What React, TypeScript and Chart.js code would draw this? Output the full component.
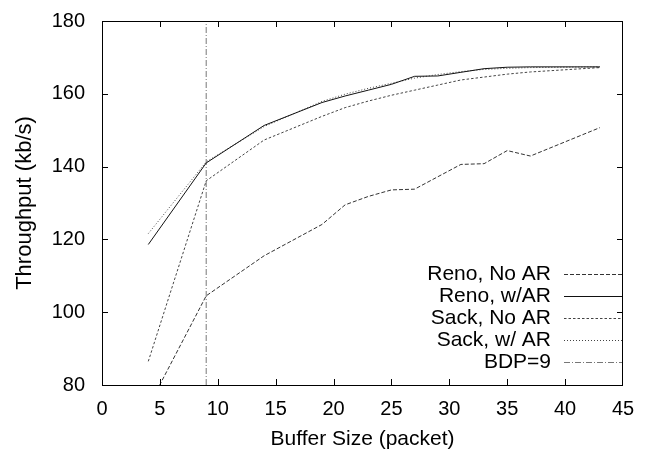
import React, { useEffect, useRef } from "react";
import { Chart, registerables } from "chart.js";

Chart.register(...registerables);

// Buffer sizes (packets) at which throughput was measured
const bufferSizes = [4, 9, 14, 19, 21, 23, 25, 27, 29, 31, 33, 35, 37, 43];

// Throughput (kb/s) per configuration
const renoNoAR = [74, 104.5, 115.5, 124.1, 129.5, 131.8, 133.6, 133.8, 137.2, 140.6, 140.8, 144.4, 142.9, 150.7];
const renoWithAR = [118.6, 141.0, 151.3, 157.6, 159.4, 161.0, 162.6, 164.8, 164.9, 165.9, 166.9, 167.3, 167.4, 167.4];
const sackNoAR = [86.5, 136.1, 147.3, 153.8, 156.2, 158.0, 159.6, 161.0, 162.4, 163.8, 164.6, 165.4, 166.0, 167.2];
const sackWithAR = [121.6, 141.3, 151.0, 157.9, 159.9, 161.5, 162.9, 164.3, 165.3, 166.1, 166.7, 167.0, 167.2, 167.4];

// Bandwidth-delay product marker
const bdpValue = 9;

// Axis ranges and tick steps
const xRange = [0, 45];
const yRange = [80, 180];
const xStep = 5;
const yStep = 20;

const FONT = "'Liberation Sans', Arial, Helvetica, sans-serif";

const toPoints = (ys: number[]) => ys.map((y, i) => ({ x: bufferSizes[i], y }));

// Box frame with inward ticks on all four sides
const framePlugin = {
  id: "frame",
  afterDatasetsDraw(chart: any) {
    const { ctx, chartArea: a, scales } = chart;
    const len = 6;
    ctx.save();
    ctx.strokeStyle = "#000";
    ctx.lineWidth = 1;
    ctx.strokeRect(a.left + 0.5, a.top + 0.5, a.right - a.left - 1, a.bottom - a.top);
    ctx.beginPath();
    for (let v = xRange[0] + xStep; v < xRange[1]; v += xStep) {
      const px = Math.round(scales.x.getPixelForValue(v)) + 0.5;
      ctx.moveTo(px, a.bottom);
      ctx.lineTo(px, a.bottom - len);
      ctx.moveTo(px, a.top);
      ctx.lineTo(px, a.top + len);
    }
    for (let v = yRange[0] + yStep; v < yRange[1]; v += yStep) {
      const py = Math.round(scales.y.getPixelForValue(v)) + 0.5;
      ctx.moveTo(a.left, py);
      ctx.lineTo(a.left + len, py);
      ctx.moveTo(a.right, py);
      ctx.lineTo(a.right - len, py);
    }
    ctx.stroke();
    ctx.restore();
  },
};

// Key in the lower right: right-aligned label, line sample to its right
const keyPlugin = {
  id: "key",
  afterDraw(chart: any) {
    const { ctx, chartArea: a } = chart;
    const textRight = a.right - 72;
    const sampleLeft = a.right - 59;
    const sampleRight = a.right - 1;
    const firstRow = a.bottom - 111;
    const rowStep = 22;
    ctx.save();
    ctx.font = `21px ${FONT}`;
    ctx.textAlign = "right";
    ctx.textBaseline = "middle";
    chart.data.datasets.forEach((ds: any, i: number) => {
      const y = firstRow + i * rowStep;
      ctx.fillStyle = "#000";
      ctx.fillText(ds.label, textRight, y);
      ctx.beginPath();
      ctx.strokeStyle = ds.borderColor;
      ctx.lineWidth = ds.borderWidth;
      ctx.setLineDash(ds.borderDash || []);
      ctx.moveTo(sampleLeft, Math.round(y) + 0.5);
      ctx.lineTo(sampleRight, Math.round(y) + 0.5);
      ctx.stroke();
    });
    ctx.restore();
  },
};

export default function App() {
  const canvasRef = useRef<HTMLCanvasElement | null>(null);

  useEffect(() => {
    if (!canvasRef.current) return;
    const line = (label: string, data: any[], color: string, dash: number[], width = 1) => ({
      label,
      data,
      borderColor: color,
      backgroundColor: color,
      borderWidth: width,
      borderDash: dash,
      pointRadius: 0,
      tension: 0,
      fill: false,
    });
    const chart = new Chart(canvasRef.current, {
      type: "line",
      data: {
        datasets: [
          line("Reno, No AR", toPoints(renoNoAR), "#333", [4, 2]),
          line("Reno, w/AR", toPoints(renoWithAR), "#111", []),
          line("Sack, No AR", toPoints(sackNoAR), "#444", [2.5, 2]),
          line("Sack, w/ AR", toPoints(sackWithAR), "#444", [1, 2]),
          line(
            `BDP=${bdpValue}`,
            [
              { x: bdpValue, y: yRange[0] },
              { x: bdpValue, y: yRange[1] },
            ],
            "#777",
            [6, 2, 1, 2]
          ),
        ],
      },
      options: {
        responsive: false,
        animation: false,
        parsing: false,
        layout: { padding: { left: 0, right: 25, top: 18, bottom: 0 } },
        plugins: {
          legend: { display: false },
          tooltip: { enabled: false },
        },
        scales: {
          x: {
            type: "linear",
            min: xRange[0],
            max: xRange[1],
            grid: { display: false },
            border: { display: false },
            ticks: {
              stepSize: xStep,
              color: "#000",
              font: { family: FONT, size: 20 },
              padding: 4,
              maxRotation: 0,
            },
            title: {
              display: true,
              text: "Buffer Size (packet)",
              color: "#000",
              font: { family: FONT, size: 21 },
              padding: { top: 0, bottom: 1 },
            },
            afterFit(scale: any) {
              scale.height = 68;
            },
          },
          y: {
            type: "linear",
            min: yRange[0],
            max: yRange[1],
            grid: { display: false },
            border: { display: false },
            ticks: {
              stepSize: yStep,
              color: "#000",
              font: { family: FONT, size: 20 },
              padding: 9,
            },
            title: {
              display: true,
              text: "Throughput (kb/s)",
              color: "#000",
              font: { family: FONT, size: 22 },
              padding: { top: 12, bottom: 0 },
            },
            afterFit(scale: any) {
              scale.width = 102;
            },
          },
        },
      },
      plugins: [framePlugin, keyPlugin],
    });
    return () => chart.destroy();
  }, []);

  return (
    <div style={{ position: "fixed", left: 0, top: 0, width: 648, height: 453, background: "#fff" }}>
      <canvas ref={canvasRef} width={648} height={453} />
    </div>
  );
}
